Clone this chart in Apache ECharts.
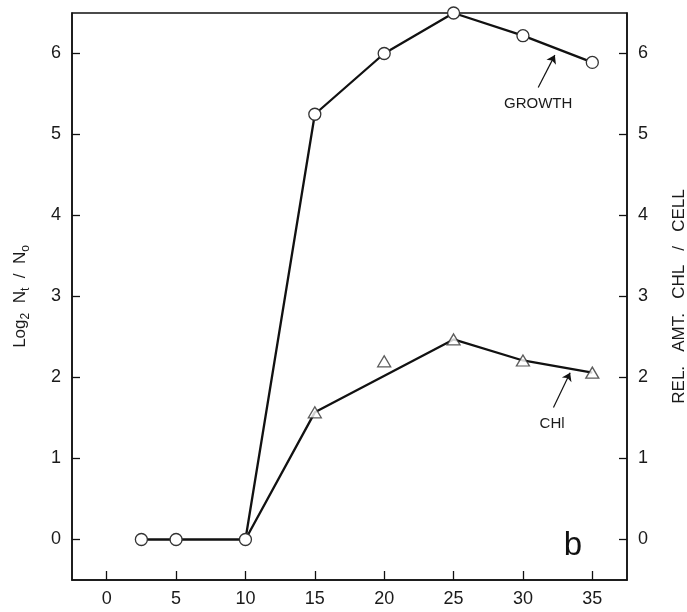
<!DOCTYPE html>
<html>
<head>
<meta charset="utf-8">
<script src="https://cdn.jsdelivr.net/npm/echarts@6/dist/echarts.min.js"></script>
<style>
html,body{margin:0;padding:0;background:#fff;}
#chart{width:687px;height:612px;}
</style>
</head>
<body>
<div id="chart"></div>
<script>
// ---- data ----
const growthDays = [2.5, 5, 10, 15, 20, 25, 30, 35];
const growthVals = [0, 0, 0, 5.25, 6.0, 6.5, 6.22, 5.89];
const chlDays = [10, 15, 20, 25, 30, 35];
const chlVals = [0, 1.57, 2.2, 2.47, 2.21, 2.06];
const chlOnLine = [true, true, false, true, true, true];   // 20 is off the drawn curve
const chlTriangle = [false, true, true, true, true, true]; // 10 shares the growth circle
const xTicks = [0, 5, 10, 15, 20, 25, 30, 35];
const yTicks = [0, 1, 2, 3, 4, 5, 6];
// annotation anchors (data coordinates)
const growthArrow = [[31.1, 5.58], [32.3, 5.98]];
const chlArrow = [[32.2, 1.63], [33.4, 2.06]];
const growthLabelAt = [31.1, 5.38];
const chlLabelAt = [32.1, 1.43];
const panelLabelAt = [33.6, -0.08];

const FONT = '"Liberation Sans", Arial, sans-serif';
const INK = '#111';
const TXT = '#1a1a1a';

const chart = echarts.init(document.getElementById('chart'), null, {renderer: 'canvas'});

function intLabel(v) {
  return yTicks.indexOf(v) >= 0 ? String(v) : '';
}
function xLabel(v) {
  return xTicks.indexOf(v) >= 0 ? String(v) : '';
}

const yAxisCommon = {
  type: 'value', min: -0.5, max: 6.5, splitNumber: 7,
  axisLine: {show: true, onZero: false, lineStyle: {color: INK, width: 1.5}},
  axisTick: {show: true, inside: true, length: 8, lineStyle: {color: INK, width: 1.3}},
  splitLine: {show: false},
  axisLabel: {formatter: intLabel, color: TXT, fontSize: 18, fontFamily: FONT, margin: 11,
              showMinLabel: false, showMaxLabel: false},
  nameLocation: 'middle', nameRotate: 90
};

const lineChl = [];
const triChl = [];
chlDays.forEach((d, i) => {
  if (chlOnLine[i]) lineChl.push([d, chlVals[i]]);
  if (chlTriangle[i]) triChl.push([d, chlVals[i]]);
});

const arrowMark = (pts) => ({
  silent: true, symbol: ['none', 'arrow'], symbolSize: 8,
  lineStyle: {color: INK, width: 1.2, type: 'solid'},
  itemStyle: {color: INK},
  label: {show: false},
  data: [[{coord: pts[0]}, {coord: pts[1]}]]
});

chart.setOption({
  animation: false,
  backgroundColor: '#fff',
  grid: {left: 72, right: 60, top: 13, bottom: 32, show: true, borderColor: INK, borderWidth: 1.5,
         backgroundColor: 'transparent', containLabel: false, outerBoundsMode: 'none'},
  xAxis: {
    type: 'value', min: -2.5, max: 37.5, splitNumber: 8,
    axisLine: {show: true, onZero: false, lineStyle: {color: INK, width: 1.5}},
    axisTick: {show: true, inside: true, length: 9, lineStyle: {color: INK, width: 1.3}},
    splitLine: {show: false},
    axisLabel: {formatter: xLabel, color: TXT, fontSize: 18, fontFamily: FONT, margin: 10,
                showMinLabel: false, showMaxLabel: false}
  },
  yAxis: [
    Object.assign({}, yAxisCommon, {
      position: 'left',
      name: '{m|Log}{s|2}{m|  N}{s|t}{m|  /  N}{s|o}',
      nameGap: 40,
      nameTextStyle: {
        color: TXT, fontFamily: FONT,
        rich: {
          m: {fontSize: 17, lineHeight: 24, verticalAlign: 'middle', fontFamily: FONT, color: TXT},
          s: {fontSize: 12, lineHeight: 13, verticalAlign: 'bottom', fontFamily: FONT, color: TXT}
        }
      }
    }),
    Object.assign({}, yAxisCommon, {
      position: 'right',
      name: 'REL.   AMT.   CHL   /   CELL',
      nameGap: 44,
      nameTextStyle: {color: TXT, fontFamily: FONT, fontSize: 17}
    })
  ],
  series: [
    {
      type: 'line', name: 'CHL line', yAxisIndex: 1, data: lineChl,
      showSymbol: false, symbol: 'none', clip: false, z: 2,
      lineStyle: {color: INK, width: 2.3},
      markLine: arrowMark(chlArrow)
    },
    {
      type: 'scatter', name: 'CHL', yAxisIndex: 1, data: triChl,
      symbol: 'triangle', symbolSize: [13, 11], clip: false, z: 4,
      itemStyle: {color: '#fff', borderColor: '#333', borderWidth: 1.3}
    },
    {
      type: 'line', name: 'GROWTH', yAxisIndex: 0,
      data: growthDays.map((d, i) => [d, growthVals[i]]),
      symbol: 'circle', symbolSize: 12, showSymbol: true, clip: false, z: 3,
      lineStyle: {color: INK, width: 2.3},
      itemStyle: {color: '#fff', borderColor: '#333', borderWidth: 1.3},
      markLine: arrowMark(growthArrow)
    }
  ]
});

function px(p) { return chart.convertToPixel({gridIndex: 0}, p); }
const g1 = px(growthLabelAt), g2 = px(chlLabelAt), g3 = px(panelLabelAt);
chart.setOption({
  graphic: [
    {type: 'text', x: g1[0], y: g1[1], style: {text: 'GROWTH', fill: TXT, font: '15px ' + FONT, align: 'center', verticalAlign: 'middle'}},
    {type: 'text', x: g2[0], y: g2[1], style: {text: 'CHl', fill: TXT, font: '15px ' + FONT, align: 'center', verticalAlign: 'middle'}},
    {type: 'text', x: g3[0], y: g3[1], style: {text: 'b', fill: '#111', font: '33px ' + FONT, align: 'center', verticalAlign: 'middle'}}
  ]
});
</script>
</body>
</html>
